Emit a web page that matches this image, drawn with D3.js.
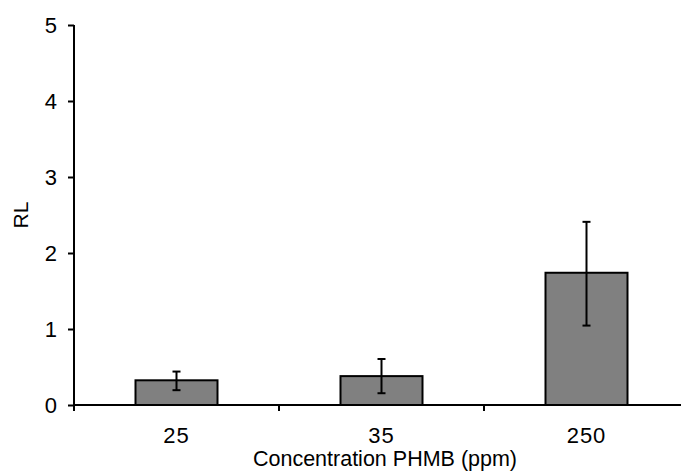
<!DOCTYPE html>
<html>
<head>
<meta charset="utf-8">
<script src="https://cdn.jsdelivr.net/npm/d3@7"></script>
<style>
  body { margin: 0; background: #fff; }
  svg { display: block; }
</style>
</head>
<body>
<div id="chart"></div>
<script>
// RL vs PHMB concentration - bar chart with error bars
const categories = ['25', '35', '250'];
const values = [0.325, 0.38, 1.74];
const errLow = [0.195, 0.155, 1.045];
const errHigh = [0.44, 0.605, 2.41];
const yTicks = [0, 1, 2, 3, 4, 5];

const w = 681, h = 471;
const mLeft = 74, mTop = 25, mBottom = 405, mRight = 689;

const svg = d3.select('#chart').append('svg')
    .attr('width', w)
    .attr('height', h)
    .attr('viewBox', `0 0 ${w} ${h}`);

const x = d3.scaleBand()
    .domain(categories)
    .range([mLeft, mRight])
    .paddingInner(0.6)
    .paddingOuter(0.3);

const step = (mRight - mLeft) / categories.length;

const y = d3.scaleLinear().domain([0, 5]).range([mBottom, mTop]);

const font = '"Liberation Sans", Arial, sans-serif';

// bars
svg.append('g')
    .selectAll('rect')
    .data(values)
    .join('rect')
    .attr('x', (d, i) => x(categories[i]))
    .attr('y', d => y(d))
    .attr('width', x.bandwidth())
    .attr('height', d => y(0) - y(d))
    .attr('fill', '#808080')
    .attr('stroke', '#000')
    .attr('stroke-width', 2);

// error bars
const eb = svg.append('g').attr('stroke', '#000').attr('stroke-width', 2);
categories.forEach((c, i) => {
    const cx = x(c) + x.bandwidth() / 2;
    eb.append('line').attr('x1', cx).attr('x2', cx).attr('y1', y(errLow[i])).attr('y2', y(errHigh[i]));
    eb.append('line').attr('x1', cx - 4).attr('x2', cx + 4).attr('y1', y(errLow[i])).attr('y2', y(errLow[i]));
    eb.append('line').attr('x1', cx - 4).attr('x2', cx + 4).attr('y1', y(errHigh[i])).attr('y2', y(errHigh[i]));
});

// y axis
const yAxis = svg.append('g')
    .attr('transform', `translate(${mLeft},0)`)
    .call(d3.axisLeft(y).tickValues(yTicks).tickSize(6).tickPadding(11).tickFormat(d3.format('d')));
yAxis.select('.domain').attr('d', `M0,${mTop}V${mBottom + 6}`).attr('stroke-width', 2);
yAxis.selectAll('.tick line').attr('stroke-width', 2);
yAxis.selectAll('.tick text').attr('font-family', font).attr('font-size', 22).attr('fill', '#000')
    .attr('dy', '0.36em');

// x axis
const xg = svg.append('g').attr('stroke', '#000').attr('stroke-width', 2);
xg.append('line').attr('x1', mLeft - 1).attr('x2', w).attr('y1', mBottom).attr('y2', mBottom);
d3.range(categories.length + 1).forEach(i => {
    const tx = mLeft + i * step;
    xg.append('line').attr('x1', tx).attr('x2', tx).attr('y1', mBottom).attr('y2', mBottom + 6);
});

svg.append('g')
    .selectAll('text')
    .data(categories)
    .join('text')
    .attr('x', d => x(d) + x.bandwidth() / 2)
    .attr('y', 443)
    .attr('text-anchor', 'middle')
    .attr('font-family', font)
    .attr('font-size', 22)
    .attr('letter-spacing', 1)
    .text(d => d);

svg.append('text')
    .attr('x', 385)
    .attr('y', 466)
    .attr('text-anchor', 'middle')
    .attr('font-family', font)
    .attr('font-size', 21.5)
    .text('Concentration PHMB (ppm)');

svg.append('text')
    .attr('transform', 'translate(28,215) rotate(-90)')
    .attr('text-anchor', 'middle')
    .attr('font-family', font)
    .attr('font-size', 21)
    .text('RL');
</script>
</body>
</html>
